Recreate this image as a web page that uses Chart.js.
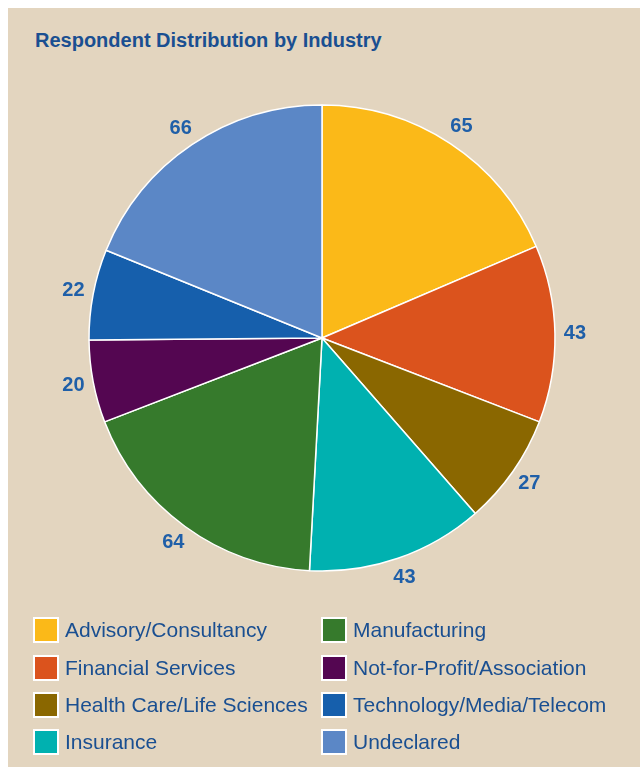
<!DOCTYPE html>
<html>
<head>
<meta charset="utf-8">
<script src="https://cdn.jsdelivr.net/npm/chart.js@4/dist/chart.umd.min.js"></script>
<style>
  html, body { margin: 0; padding: 0; background: #ffffff; }
  body { width: 640px; height: 769px; position: relative; overflow: hidden; font-family: "Liberation Sans", Arial, sans-serif; }
  #panel { position: absolute; left: 8px; top: 8px; width: 632px; height: 759px; background: #e3d5bf; }
  #title { position: absolute; left: 35px; top: 29px; font-size: 20px; font-weight: bold; color: #1a4f91; white-space: nowrap; }
  #wrap { position: absolute; left: 0; top: 0; width: 640px; height: 676px; }
  #legend { position: absolute; left: 0; top: 0; }
  .item { position: absolute; white-space: nowrap; font-size: 21px; color: #1a4f91; line-height: 26px; }
  .box { position: absolute; left: 0; top: 0; width: 22px; height: 22px; border: 2px solid #ffffff; }
  .txt { position: absolute; left: 32px; top: 0; }
</style>
</head>
<body>
<div id="panel"></div>
<div id="title">Respondent Distribution by Industry</div>
<div id="wrap"><canvas id="pie"></canvas></div>
<div id="legend"></div>
<script>
// ───── Data ────────────────────────────────────────────────────────────────
const industries = [
  'Advisory/Consultancy',
  'Financial Services',
  'Health Care/Life Sciences',
  'Insurance',
  'Manufacturing',
  'Not-for-Profit/Association',
  'Technology/Media/Telecom',
  'Undeclared',
];
const respondents = [65, 43, 27, 43, 64, 20, 22, 66];
const sliceColors = [
  '#fbb918', '#db531d', '#8a6700', '#00b1b0',
  '#367a2c', '#540651', '#165fac', '#5b87c6',
];

// Draws each slice's count just outside the rim.
const outsideLabels = {
  id: 'outsideLabels',
  afterDatasetsDraw(chart) {
    const { ctx } = chart;
    const meta = chart.getDatasetMeta(0);
    ctx.save();
    ctx.font = 'bold 20px "Liberation Sans", Arial, sans-serif';
    ctx.fillStyle = '#1f5fa8';
    ctx.textAlign = 'center';
    ctx.textBaseline = 'middle';
    meta.data.forEach((arc, i) => {
      const mid = (arc.startAngle + arc.endAngle) / 2;
      const r = arc.outerRadius + 20;
      ctx.fillText(String(respondents[i]), arc.x + Math.cos(mid) * r, arc.y + Math.sin(mid) * r);
    });
    ctx.restore();
  },
};

new Chart(document.getElementById('pie'), {
  type: 'pie',
  data: {
    labels: industries,
    datasets: [{
      data: respondents,
      backgroundColor: sliceColors,
      borderColor: '#ffffff',
      borderWidth: 1.5,
      radius: 233,
    }],
  },
  options: {
    responsive: true,
    maintainAspectRatio: false,
    animation: false,
    layout: { padding: { left: 4, right: 0, top: 0, bottom: 0 } },
    plugins: {
      legend: { display: false },
      tooltip: { enabled: false },
    },
  },
  plugins: [outsideLabels],
});

// Two-column legend, filled column by column.
const legend = document.getElementById('legend');
const colX = [33, 321];
const rowY = [617, 655, 692, 729];
industries.forEach((name, i) => {
  const col = Math.floor(i / 4);
  const row = i % 4;
  const item = document.createElement('div');
  item.className = 'item';
  item.style.left = colX[col] + 'px';
  item.style.top = rowY[row] + 'px';
  item.innerHTML = `<span class="box" style="background:${sliceColors[i]}"></span><span class="txt"></span>`;
  item.querySelector('.txt').textContent = name;
  legend.appendChild(item);
});
</script>
</body>
</html>
